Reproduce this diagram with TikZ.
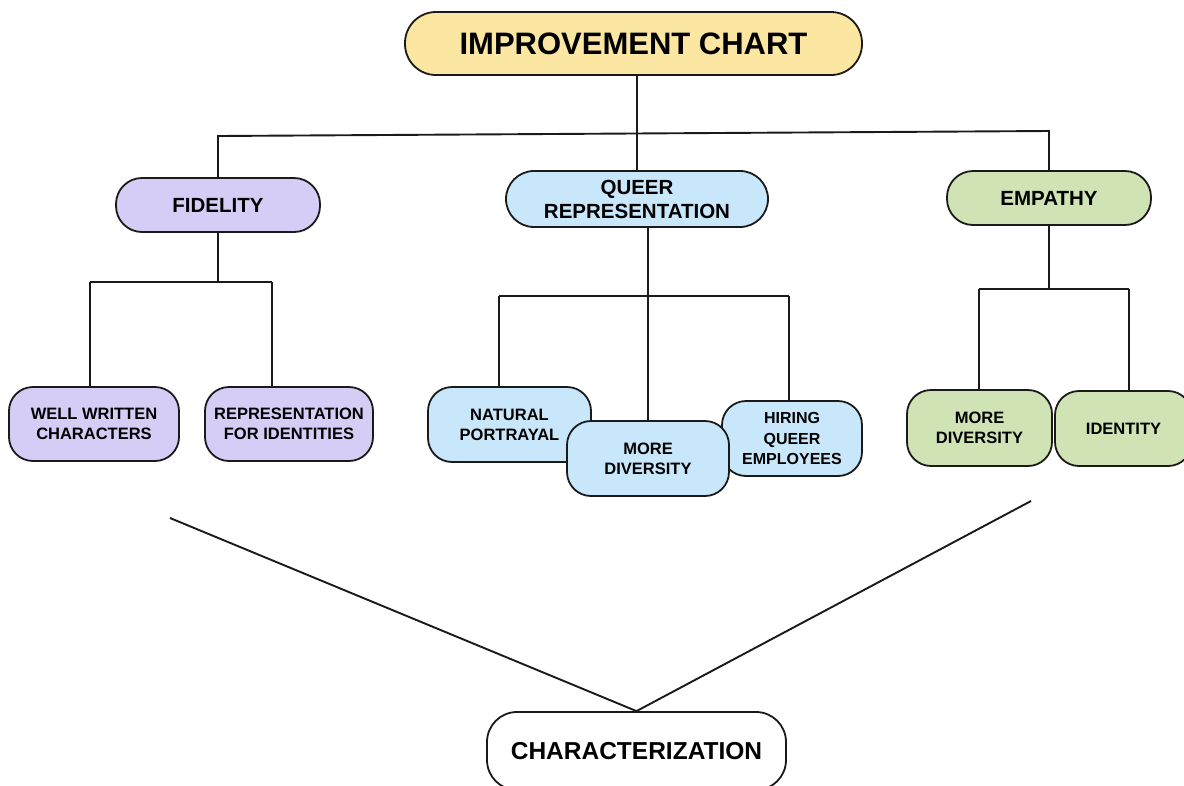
\documentclass[tikz,border=0pt]{standalone}
\usepackage{fontspec}
\setmainfont{Liberation Sans}
\definecolor{cyellow}{HTML}{FBE7A1}
\definecolor{clav}{HTML}{D6CDF6}
\definecolor{cblue}{HTML}{C8E7FB}
\definecolor{cgreen}{HTML}{CFE3B4}
\definecolor{cline}{HTML}{1A1A1A}
\tikzset{
  box/.style={draw=cline, line width=1.8pt, rectangle, align=center, inner sep=0pt, font=\bfseries},
  pill/.style={box, rounded corners=26pt},
  child/.style={box, rounded corners=24pt},
  conn/.style={draw=cline, line width=1.9pt}
}
\begin{document}
\begin{tikzpicture}[x=1pt,y=-1pt]
\useasboundingbox (0,0) rectangle (1184,785);
\fill[white] (0,0) rectangle (1184,785);
\clip (0,0) rectangle (1184,785);
% level 0
\node[pill, rounded corners=31pt, fill=cyellow, minimum width=457pt, minimum height=63pt,
      font=\bfseries\fontsize{31}{34}\selectfont] (title) at (633.5,43.5) {IMPROVEMENT CHART};
% level 1
\node[pill, fill=clav, minimum width=204pt, minimum height=54pt,
      font=\bfseries\fontsize{20.5}{24}\selectfont] (fid) at (218,205) {FIDELITY};
\node[pill, rounded corners=28pt, fill=cblue, minimum width=262pt, minimum height=56pt,
      font=\bfseries\fontsize{20.5}{24}\selectfont] (queer) at (637,199) {QUEER\\REPRESENTATION};
\node[pill, fill=cgreen, minimum width=204pt, minimum height=54pt,
      font=\bfseries\fontsize{20.5}{24}\selectfont] (emp) at (1049,198) {EMPATHY};
% level 2
\node[child, fill=clav, minimum width=170pt, minimum height=74pt,
      font=\bfseries\fontsize{16.5}{20}\selectfont] (well) at (94,424) {WELL WRITTEN\\CHARACTERS};
\node[child, fill=clav, minimum width=168pt, minimum height=74pt,
      font=\bfseries\fontsize{16.5}{20}\selectfont] (repid) at (289,424) {REPRESENTATION\\FOR IDENTITIES};
\node[child, fill=cblue, minimum width=140pt, minimum height=75pt,
      font=\bfseries\fontsize{16}{20.5}\selectfont] (hire) at (792,438.5) {HIRING\\QUEER\\EMPLOYEES};
\node[child, fill=cblue, minimum width=163pt, minimum height=75pt,
      font=\bfseries\fontsize{16.5}{20}\selectfont] (nat) at (509.5,424.5) {NATURAL\\PORTRAYAL};
\node[child, fill=cblue, minimum width=162pt, minimum height=75pt,
      font=\bfseries\fontsize{16.5}{20}\selectfont] (mdb) at (648,458.5) {MORE\\DIVERSITY};
\node[child, fill=cgreen, minimum width=145pt, minimum height=76pt,
      font=\bfseries\fontsize{16.5}{20}\selectfont] (mdg) at (979.5,428) {MORE\\DIVERSITY};
\node[child, fill=cgreen, minimum width=137pt, minimum height=75pt,
      font=\bfseries\fontsize{16.5}{20}\selectfont] (ident) at (1123.5,428.5) {IDENTITY};
% bottom
\node[child, rounded corners=30pt, fill=white, minimum width=299pt, minimum height=78pt,
      font=\bfseries\fontsize{24.5}{28}\selectfont] (char) at (636.5,751) {CHARACTERIZATION};
% connectors
\coordinate (tl) at (218,136);
\coordinate (tr) at (1049,131);
\draw[conn] (title.south -| queer.north) -- (queer.north);
\draw[conn] (fid.north) -- (tl) -- (tr) -- (emp.north);
% fidelity group
\coordinate (fj) at (218,282);
\coordinate (fl) at (90,282);
\coordinate (fr) at (272,282);
\draw[conn] (fid.south) -- (fj);
\draw[conn] (fl) -- (fr);
\draw[conn] (fl) -- (fl |- well.north);
\draw[conn] (fr) -- (fr |- repid.north);
% queer group
\coordinate (ql) at (499,296);
\coordinate (qr) at (789,296);
\draw[conn] (mdb.north |- queer.south) -- (mdb.north);
\draw[conn] (ql) -- (qr);
\draw[conn] (ql) -- (ql |- nat.north);
\draw[conn] (qr) -- (qr |- hire.north);
% empathy group
\coordinate (el) at (979,289);
\coordinate (er) at (1129,289);
\draw[conn] (emp.south) -- (emp.south |- el);
\draw[conn] (el) -- (er);
\draw[conn] (el) -- (el |- mdg.north);
\draw[conn] (er) -- (er |- ident.north);
% to characterization
\coordinate (a1) at (170,518);
\coordinate (a2) at (1031,501);
\draw[conn] (a1) -- (char.north) -- (a2);
\end{tikzpicture}
\end{document}
